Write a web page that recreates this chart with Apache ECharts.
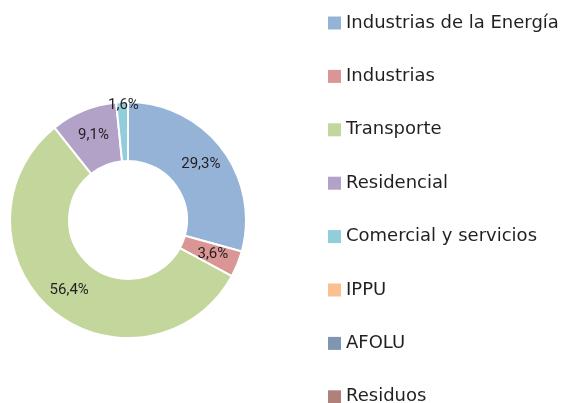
<!DOCTYPE html>
<html>
<head>
<meta charset="utf-8">
<script src="https://cdn.jsdelivr.net/npm/echarts@6/dist/echarts.min.js"></script>
<style>
  html, body { margin: 0; padding: 0; background: #fff; }
  #main { width: 564px; height: 403px; }
</style>
</head>
<body>
<div id="main"></div>
<script>
// sectores y porcentajes
const categories = ['Industrias de la Energía', 'Industrias', 'Transporte', 'Residencial',
  'Comercial y servicios', 'IPPU', 'AFOLU', 'Residuos'];
const values = [29.3, 3.6, 56.4, 9.1, 1.6, 0, 0, 0];
const colors = ['#95b3d7', '#d99694', '#c3d69b', '#b2a2c7', '#92cddc', '#fac090', '#7f95b0', '#b0807b'];

let chart = echarts.init(document.getElementById('main'));

let option = {
  color: colors,
  legend: {
    orient: 'vertical',
    left: 328,
    top: 13,
    height: 420,
    padding: 0,
    icon: 'rect',
    itemWidth: 13,
    itemHeight: 13,
    itemGap: 33.4,
    itemStyle: { borderWidth: 0 },
    textStyle: {
      fontFamily: 'DejaVu Sans, sans-serif',
      fontSize: 18,
      lineHeight: 20,
      color: '#231f20'
    },
    data: categories
  },
  series: [
    {
      type: 'pie',
      center: [128, 220],
      radius: [59, 118],
      startAngle: 90,
      clockwise: true,
      avoidLabelOverlap: false,
      itemStyle: {
        borderColor: '#fff',
        borderWidth: 2
      },
      label: {
        show: true,
        position: 'inside',
        fontFamily: 'Roboto, sans-serif',
        fontSize: 15,
        color: '#231f20',
        formatter: function (p) {
          if (!p.value) return '';
          return p.value.toFixed(1).replace('.', ',') + '%';
        }
      },
      labelLine: { show: false },
      labelLayout: function (params) {
        // la etiqueta pequeña va junto al borde exterior
        if (params.dataIndex === 4) return { dy: -23 };
        return {};
      },
      emphasis: { disabled: true },
      data: categories.map((name, i) => ({ name: name, value: values[i] }))
    }
  ]
};

chart.setOption(option);
</script>
</body>
</html>
